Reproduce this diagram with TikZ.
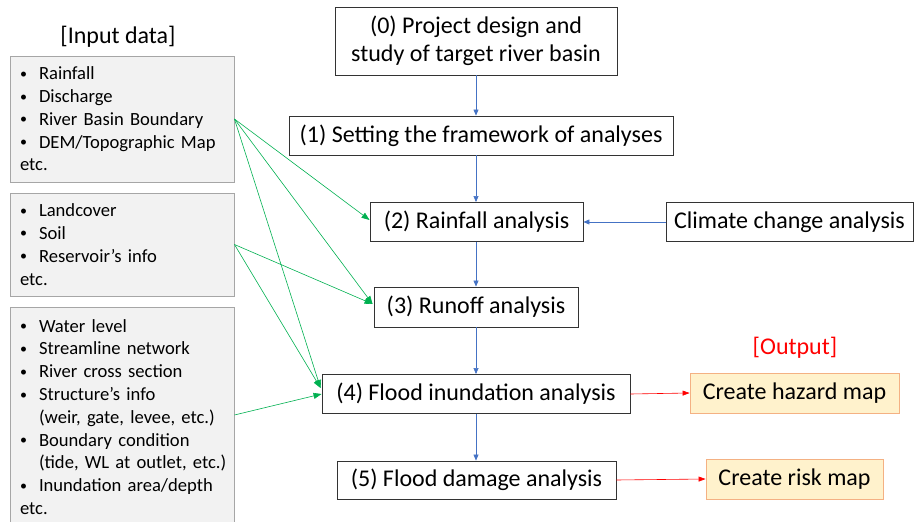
\documentclass[tikz,border=0pt]{standalone}
\usepackage{fontspec}
\setmainfont{Carlito}
\usetikzlibrary{arrows.meta}
\definecolor{flowblue}{HTML}{4472C4}
\definecolor{datagreen}{HTML}{00B050}
\definecolor{outred}{HTML}{FF0000}
\definecolor{outfill}{HTML}{FFF2CC}
\definecolor{outedge}{HTML}{F4B183}
\definecolor{infill}{HTML}{F2F2F2}
\definecolor{inedge}{HTML}{A6A6A6}
% one bulleted line, and an indented continuation line, never broken
\newcommand\smallbullet{\raisebox{1.5pt}{\fontsize{14}{14}\selectfont\textbullet}}
\newcommand\bul[1]{\mbox{\makebox[19pt][l]{\smallbullet}#1}}
\newcommand\cont[1]{\mbox{\hspace*{19pt}#1}}
\begin{document}
\begin{tikzpicture}[x=1pt,y=-1pt,
  stepbox/.style={draw=black!80, line width=0.9pt, fill=white, inner sep=0pt,
    align=center, font=\fontsize{24}{28}\selectfont},
  outbox/.style={draw=outedge, line width=0.9pt, fill=outfill, inner sep=0pt,
    font=\fontsize{24}{28}\selectfont},
  inbox/.style={draw=inedge, line width=0.9pt, fill=infill, inner xsep=10pt,
    inner ysep=0pt, text width=204pt, align=left,
    font=\fontsize{18.6}{22.8}\selectfont},
  flow/.style={draw=flowblue, line width=0.6pt, -{Triangle[length=6pt,width=5pt]}},
  feed/.style={draw=datagreen, line width=0.6pt, -{Triangle[length=8pt,width=6pt]}},
  result/.style={draw=outred, line width=0.6pt, -{Triangle[length=7pt,width=5pt]}},
  title/.style={font=\fontsize{24}{28}\selectfont}]
\useasboundingbox (0,0) rectangle (914,522);

% processing steps
\node[stepbox, minimum width=282pt, minimum height=68pt] (s0) at (476,41)
  {(0) Project design and\\ study of target river basin};
\node[stepbox, minimum width=384pt, minimum height=39pt] (s1) at (481,135.5)
  {(1) Setting the framework of analyses};
\node[stepbox, minimum width=213pt, minimum height=39pt] (s2) at (476.5,222)
  {(2) Rainfall analysis};
\node[stepbox, minimum width=247pt, minimum height=39pt] (cc) at (789.5,222)
  {Climate change analysis};
\node[stepbox, minimum width=204pt, minimum height=40pt] (s3) at (476,307)
  {(3) Runoff analysis};
\node[stepbox, minimum width=308pt, minimum height=39pt] (s4) at (476,394)
  {(4) Flood inundation analysis};
\node[stepbox, minimum width=279pt, minimum height=38pt] (s5) at (476.5,480)
  {(5) Flood damage analysis};

% outputs
\node[title, text=outred] (outlabel) at (795,348) {[Output]};
\node[outbox, minimum width=209pt, minimum height=40pt] (haz) at (794.5,393)
  {Create hazard map};
\node[outbox, minimum width=177pt, minimum height=40pt] (risk) at (794.5,479)
  {Create risk map};

% input data
\node[title] (inlabel) at (118,37) {[Input data]};
\node[inbox, minimum height=126pt] (in1) at (122,119)
  {\bul{Rainfall}\\ \bul{Discharge}\\ \bul{River Basin Boundary}\\
   \bul{DEM/Topographic Map}\\ etc.};
\node[inbox, minimum height=103pt] (in2) at (122,244.5)
  {\bul{Landcover}\\ \bul{Soil}\\ \bul{Reservoir’s info}\\ etc.};
\node[inbox, minimum height=220pt] (in3) at (122,417)
  {\bul{Water level}\\ \bul{Streamline network}\\ \bul{River cross section}\\
   \bul{Structure’s info}\\ \cont{(weir, gate, levee, etc.)}\\
   \bul{Boundary condition}\\ \cont{(tide, WL at outlet, etc.)}\\
   \bul{Inundation area/depth}\\ etc.};

% main flow
\draw[flow] (s0.south) -- (s0.south |- s1.north);
\draw[flow] (s0.south |- s1.south) -- (s0.south |- s2.north);
\draw[flow] (s0.south |- s2.south) -- (s0.south |- s3.north);
\draw[flow] (s0.south |- s3.south) -- (s0.south |- s4.north);
\draw[flow] (s0.south |- s4.south) -- (s0.south |- s5.north);
\draw[flow] (cc.west) -- (s2.east);

% data feeds
\coordinate (t2) at ([yshift=2pt]s2.west);
\coordinate (t3) at ([yshift=3pt,xshift=-1pt]s3.west);
\coordinate (t4) at ([yshift=6pt,xshift=-1pt]s4.west);
\draw[feed] (in1.east) -- (t2);
\draw[feed] (in1.east) -- (t3);
\draw[feed] (in1.east) -- (t4);
\draw[feed] (in2.east) -- (t3);
\draw[feed] (in2.east) -- (t4);
\draw[feed] ([yshift=2pt]in3.east) -- (s4.west);

% results
\draw[result] (s4.east) -- (haz.west);
\draw[result] (s5.east) -- (risk.west);
\end{tikzpicture}
\end{document}
